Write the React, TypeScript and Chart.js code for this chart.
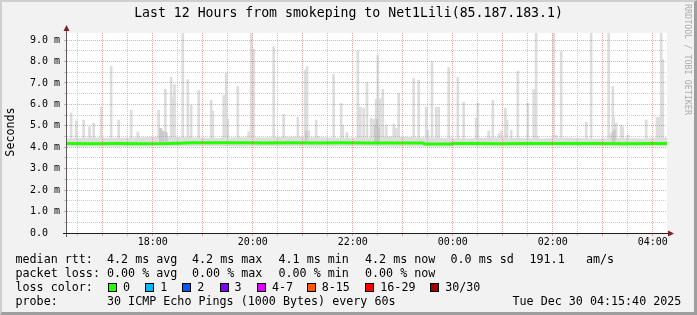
import React, { useEffect, useRef } from 'react';
import { Chart, registerables } from 'chart.js';

Chart.register(...registerables);

// ---------- time axis (minutes after midnight of the first day) ----------
const START_MIN = 977; // 16:17
const END_MIN = 1697; // 04:17 next day
const xGridTimes = [990, 1020, 1050, 1080, 1110, 1140, 1170, 1200, 1230, 1260, 1290, 1320, 1350, 1380, 1410, 1440, 1470, 1500, 1530, 1560, 1590, 1620, 1650, 1680];
const xLabelEvery = 120;

// ---------- value axis (milliseconds) ----------
const Y_MAX = 9.33;
const yGridValues = [0, 0.5, 1, 1.5, 2, 2.5, 3, 3.5, 4, 4.5, 5, 5.5, 6, 6.5, 7, 7.5, 8, 8.5, 9];

// ---------- smoke: spikes (max ping of the column) ----------
const spikeTimes = [982, 988, 997, 1004, 1009, 1018, 1030, 1039, 1054, 1062,
  1087, 1090, 1095, 1102, 1104, 1106, 1116, 1122, 1126, 1135,
  1150, 1152, 1165, 1168, 1170, 1182, 1195, 1198, 1201, 1225,
  1237, 1254, 1263, 1265, 1267, 1276, 1278, 1297, 1306, 1308,
  1313, 1326, 1329, 1333, 1337, 1342, 1345, 1348, 1350, 1353,
  1356, 1360, 1369, 1372, 1375, 1393, 1399, 1408, 1410, 1415,
  1420, 1423, 1435, 1446, 1453, 1468, 1470, 1483, 1488, 1495,
  1498, 1503, 1505, 1510, 1518, 1530, 1537, 1540, 1542, 1561,
  1564, 1570, 1600, 1606, 1627, 1630, 1632, 1633, 1636, 1642,
  1644, 1650, 1672, 1685, 1687, 1690, 1692];
const spikeTops = [5.6, 5.23, 5.27, 4.96, 5.13, 5.87, 7.77, 5.27, 5.73, 4.71,
  5.73, 4.88, 6.7, 7.26, 6.27, 6.93, 9.8, 7.16, 5.96, 6.65,
  6.19, 5.68, 6.42, 7.46, 5.3, 6.84, 4.73, 9.9, 8.58, 8.7,
  5.54, 5.4, 7.58, 7.77, 4.77, 5.28, 4.52, 7.41, 6.05, 5.03,
  4.68, 8.5, 5.87, 5.82, 7.02, 5.36, 5.31, 6.24, 8.27, 6.27,
  6.7, 5.03, 5.08, 4.9, 6.52, 7.21, 7.12, 5.87, 4.8, 7.99,
  5.87, 5.87, 7.72, 7.26, 6.1, 5.36, 6.05, 4.76, 6.19, 4.62,
  4.76, 5.82, 5.27, 4.8, 7.55, 6.05, 6.7, 10.2, 4.5, 9.7,
  4.56, 8.48, 5.17, 9.8, 10.1, 4.62, 6.84, 5.4, 5.13, 5.03,
  4.94, 4.56, 5.27, 5.4, 5.4, 9.9, 8.1];
const spikeBase = 4.2;

// ---------- smoke: denser inner pings ----------
const innerTimes = [1089, 1092, 1096, 1264, 1347, 1349, 1351, 1632, 1634];
const innerTops = [4.88, 4.75, 4.7, 4.75, 5.0, 5.3, 4.9, 4.7, 4.8];

// ---------- smoke: base band around the median ----------
const baseTimes = [977, 1007, 1037, 1067, 1097, 1127, 1157, 1187, 1217, 1247, 1277, 1307, 1337, 1367, 1397, 1427, 1457, 1487, 1517, 1547, 1577, 1607, 1637, 1667, 1697];
const baseTops = [4.41, 4.45, 4.43, 4.47, 4.5, 4.45, 4.43, 4.47, 4.45, 4.49, 4.47, 4.43, 4.45, 4.5, 4.47, 4.43, 4.41, 4.45, 4.43, 4.41, 4.45, 4.4, 4.43, 4.41, 4.45];
const baseBottoms = [4.02, 4.03, 4.02, 4.03, 4.04, 4.05, 4.05, 4.04, 4.05, 4.05, 4.04, 4.05, 4.05, 4.04, 4.04, 4.02, 4.03, 4.04, 4.04, 4.03, 4.04, 4.04, 4.03, 4.03, 4.04];

// ---------- median rtt ----------
const medianTimes = [977, 1007, 1037, 1067, 1097, 1112, 1127, 1157, 1187, 1217, 1247, 1277, 1307, 1337, 1367, 1397, 1404, 1406, 1439, 1441, 1467, 1497, 1527, 1557, 1587, 1617, 1647, 1677, 1697];
const medianValues = [4.17, 4.16, 4.17, 4.16, 4.17, 4.19, 4.21, 4.21, 4.21, 4.2, 4.21, 4.2, 4.21, 4.2, 4.2, 4.2, 4.2, 4.15, 4.15, 4.17, 4.17, 4.16, 4.17, 4.17, 4.17, 4.17, 4.16, 4.17, 4.17];

// ---------- texts ----------
const titleText = 'Last 12 Hours from smokeping to Net1Lili(85.187.183.1)';
const yAxisTitle = 'Seconds';
const watermarkText = 'RRDTOOL / TOBI OETIKER';
const rowLabels = ['median rtt:', 'packet loss:', 'loss color:', 'probe:'];
const rttStats = ['4.2 ms avg', '4.2 ms max', '4.1 ms min', '4.2 ms now', '0.0 ms sd', '191.1', 'am/s'];
const lossStats = ['0.00 % avg', '0.00 % max', '0.00 % min', '0.00 % now'];
const lossColorLabels = ['0', '1', '2', '3', '4-7', '8-15', '16-29', '30/30'];
const lossColorValues = ['#26ff00', '#00b8ff', '#0059ff', '#7e00ff', '#dd00ff', '#ff5500', '#ff0000', '#a10000'];
const probeText = '30 ICMP Echo Pings (1000 Bytes) every 60s';
const dateText = 'Tue Dec 30 04:15:40 2025';

// ---------- layout (positions, not data) ----------
const W = 697;
const H = 315;
const statX = [107, 192, 278.5, 365, 450.5, 529.5, 586];
const boxX = [108, 145.3, 182.2, 219.6, 256.9, 306.7, 365.3, 430.2];
const rowTop = [252, 266, 280, 294];
const MONO = '"DejaVu Sans Mono", "Liberation Mono", monospace';
const MAJOR = 'rgba(222,79,79,0.5)';
const MINOR = 'rgba(143,143,143,0.45)';

function fmtTime(m: number) {
  const mm = ((m % 1440) + 1440) % 1440;
  const h = Math.floor(mm / 60);
  const mi = mm % 60;
  return `${String(h).padStart(2, '0')}:${String(mi).padStart(2, '0')}`;
}

export default function App() {
  const ref = useRef<HTMLCanvasElement>(null);

  useEffect(() => {
    const canvas = ref.current;
    if (!canvas) return;

    const framePlugin = {
      id: 'rrdFrame',
      beforeDraw(chart: any) {
        const { ctx, chartArea: a } = chart;
        ctx.save();
        ctx.fillStyle = '#ffffff';
        ctx.fillRect(a.left, a.top, a.right - a.left, a.bottom - a.top);
        ctx.restore();
      },
      afterDraw(chart: any) {
        const { ctx, chartArea: a } = chart;
        ctx.save();
        ctx.fillStyle = '#5a5a5a';
        ctx.fillRect(a.left - 1, a.top - 3, 1, a.bottom - a.top + 7);
        ctx.fillStyle = '#1f1f1f';
        ctx.fillRect(a.left - 4, a.bottom, a.right - a.left + 5, 1);
        ctx.fillStyle = '#801f1f';
        ctx.beginPath();
        ctx.moveTo(a.left - 0.5, a.top - 8);
        ctx.lineTo(a.left - 3.5, a.top - 2);
        ctx.lineTo(a.left + 2.5, a.top - 2);
        ctx.closePath();
        ctx.fill();
        ctx.beginPath();
        ctx.moveTo(a.right + 7, a.bottom + 0.5);
        ctx.lineTo(a.right + 1, a.bottom - 2.5);
        ctx.lineTo(a.right + 1, a.bottom + 3.5);
        ctx.closePath();
        ctx.fill();
        ctx.restore();
      },
    };

    const chart = new Chart(canvas, {
      type: 'bar',
      data: {
        datasets: [
          {
            type: 'line',
            label: 'median rtt',
            data: medianTimes.map((t, i) => ({ x: t, y: medianValues[i] })),
            borderColor: '#26ff00',
            borderWidth: 3,
            pointRadius: 0,
            fill: false,
            tension: 0,
            order: 0,
          } as any,
          {
            type: 'bar',
            label: 'inner smoke',
            data: innerTimes.map((t, i) => ({ x: t, y: [spikeBase, innerTops[i]] })),
            backgroundColor: '#c9c9c9',
            borderWidth: 0,
            barThickness: 2,
            grouped: false,
            order: 1,
          } as any,
          {
            type: 'bar',
            label: 'smoke',
            data: spikeTimes.map((t, i) => ({ x: t, y: [spikeBase, spikeTops[i]] })),
            backgroundColor: '#dddddd',
            borderWidth: 0,
            barThickness: 2,
            grouped: false,
            order: 2,
          } as any,
          {
            type: 'line',
            label: 'smoke top',
            data: baseTimes.map((t, i) => ({ x: t, y: baseTops[i] })),
            borderColor: 'transparent',
            borderWidth: 0,
            backgroundColor: '#dddddd',
            pointRadius: 0,
            fill: '+1',
            order: 3,
          } as any,
          {
            type: 'line',
            label: 'smoke bottom',
            data: baseTimes.map((t, i) => ({ x: t, y: baseBottoms[i] })),
            borderColor: 'transparent',
            borderWidth: 0,
            pointRadius: 0,
            fill: false,
            order: 4,
          } as any,
        ],
      },
      options: {
        responsive: false,
        animation: false,
        devicePixelRatio: 1,
        layout: { padding: { left: 0, top: 33, right: 30, bottom: 0 } },
        plugins: {
          legend: { display: false },
          tooltip: { enabled: false },
          title: { display: false },
        },
        scales: {
          x: {
            type: 'linear',
            min: START_MIN,
            max: END_MIN,
            offset: false,
            grid: {
              offset: false,
              z: 1,
              lineWidth: 1,
              tickLength: 3,
              color: (c: any) => (c.tick && c.tick.value % 60 === 0 ? MAJOR : MINOR),
            },
            border: { display: false, dash: [1, 1] },
            ticks: {
              autoSkip: false,
              maxRotation: 0,
              minRotation: 0,
              padding: 0,
              color: '#000',
              font: { family: MONO, size: 10 },
              callback: (v: any) => (Number(v) % xLabelEvery === 0 ? fmtTime(Number(v)) : ''),
            },
            afterBuildTicks: (s: any) => {
              s.ticks = xGridTimes.map((v) => ({ value: v }));
            },
            afterFit: (s: any) => {
              s.height = H - 233;
            },
          },
          y: {
            type: 'linear',
            min: 0,
            max: Y_MAX,
            grid: {
              z: 1,
              lineWidth: 1,
              tickLength: 3,
              color: (c: any) => (c.tick && Number.isInteger(c.tick.value) ? MAJOR : MINOR),
            },
            border: { display: false, dash: [1, 1] },
            ticks: {
              autoSkip: false,
              padding: 4,
              color: '#000',
              font: { family: MONO, size: 10 },
              callback: (v: any) => {
                const n = Number(v);
                if (!Number.isInteger(n)) return '';
                return n === 0 ? '0.0  ' : `${n.toFixed(1)} m`;
              },
            },
            afterBuildTicks: (s: any) => {
              s.ticks = yGridValues.map((v) => ({ value: v }));
            },
            afterFit: (s: any) => {
              s.width = 67;
            },
          },
        },
      } as any,
      plugins: [framePlugin],
    });

    return () => chart.destroy();
  }, []);

  const textBase: React.CSSProperties = {
    position: 'absolute',
    fontFamily: MONO,
    fontSize: '11.7px',
    lineHeight: '14px',
    color: '#000',
    whiteSpace: 'pre',
  };

  return (
    <div style={{ position: 'fixed', left: 0, top: 0, width: W, height: H, background: '#f2f2f2', overflow: 'hidden' }}>
      <div
        style={{
          position: 'absolute', left: 0, top: 0, width: W, height: H, boxSizing: 'border-box',
          borderTop: '2px solid #cfcfcf', borderLeft: '2px solid #cfcfcf',
          borderRight: '3px solid #9e9e9e', borderBottom: '3px solid #9e9e9e',
        }}
      />
      <canvas ref={ref} width={W} height={H} style={{ position: 'absolute', left: 0, top: 0, width: W, height: H }} />
      <div style={{ position: 'absolute', left: 0, top: 5, width: W, textAlign: 'center', fontFamily: MONO, fontSize: '13.2px', lineHeight: '16px', color: '#000', whiteSpace: 'pre' }}>
        {titleText}
      </div>
      <div style={{ position: 'absolute', left: -40, top: 125, width: 100, height: 14, textAlign: 'center', fontFamily: MONO, fontSize: '11.7px', lineHeight: '14px', color: '#000', transform: 'rotate(-90deg)', transformOrigin: '50% 50%' }}>
        {yAxisTitle}
      </div>
      <div style={{ position: 'absolute', left: 693, top: 4, fontFamily: MONO, fontSize: '8.4px', lineHeight: '10px', color: '#ababab', whiteSpace: 'pre', transform: 'rotate(90deg)', transformOrigin: '0 0' }}>
        {watermarkText}
      </div>

      {rowLabels.map((l, i) => (
        <div key={'rl' + i} style={{ ...textBase, left: 15.5, top: rowTop[i] }}>{l}</div>
      ))}
      {rttStats.map((s, i) => (
        <div key={'rtt' + i} style={{ ...textBase, left: statX[i], top: rowTop[0] }}>{s}</div>
      ))}
      {lossStats.map((s, i) => (
        <div key={'ls' + i} style={{ ...textBase, left: statX[i], top: rowTop[1] }}>{s}</div>
      ))}
      {lossColorLabels.map((l, i) => (
        <React.Fragment key={'lc' + i}>
          <div style={{ position: 'absolute', left: boxX[i], top: rowTop[2] + 3, width: 9, height: 9, boxSizing: 'border-box', border: '1px solid #000', background: lossColorValues[i] }} />
          <div style={{ ...textBase, left: boxX[i] + 15, top: rowTop[2] }}>{l}</div>
        </React.Fragment>
      ))}
      <div style={{ ...textBase, left: statX[0], top: rowTop[3] }}>{probeText}</div>
      <div style={{ ...textBase, left: 512.5, top: rowTop[3] }}>{dateText}</div>
    </div>
  );
}
